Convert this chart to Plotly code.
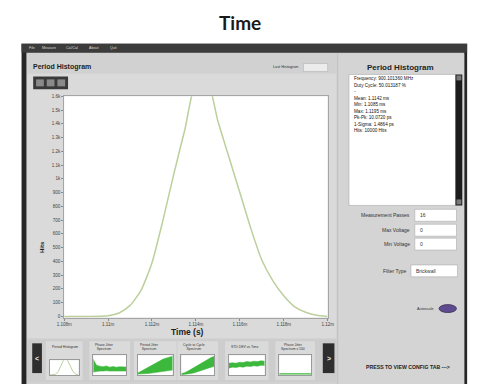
import plotly.graph_objects as go

W, H = 478, 385

# ---------------- data ----------------
times_ms = [1.108, 1.109, 1.110, 1.1105, 1.111, 1.1115, 1.112, 1.1125, 1.113, 1.1135,
            1.114, 1.1145, 1.115, 1.1155, 1.116, 1.1165, 1.117, 1.1175, 1.118, 1.1185,
            1.119, 1.1195, 1.120]
hits = [0, 0, 5, 25, 80, 190, 390, 700, 1040, 1360, 1700, 1720, 1420, 1160, 900, 640,
        410, 260, 150, 70, 30, 8, 0]

x_tick_vals = [1.108, 1.110, 1.112, 1.114, 1.116, 1.118, 1.120]
x_tick_text = ["1.108m", "1.11m", "1.112m", "1.114m", "1.116m", "1.118m", "1.12m"]
y_tick_vals = [0, 100, 200, 300, 400, 500, 600, 700, 800, 900, 1000, 1100, 1200, 1300, 1400, 1500, 1600]
y_tick_text = ["0", "100", "200", "300", "400", "500", "600", "700", "800", "900",
               "1k", "1.1k", "1.2k", "1.3k", "1.4k", "1.5k", "1.6k"]

# thumbnails (normalised 0..1 values, read by eye)
thumb_x = [0, 1, 2, 3, 4, 5, 6, 7, 8, 9, 10]
thumb1_hist = [0, 0, 0.05, 0.25, 0.65, 1.1, 1.05, 0.6, 0.25, 0.06, 0]
thumb2_low = [0.15, 0.18, 0.2, 0.2, 0.22, 0.2, 0.2, 0.22, 0.2, 0.2, 0.2]
thumb2_high = [0.8, 0.5, 0.45, 0.42, 0.46, 0.4, 0.43, 0.4, 0.42, 0.4, 0.41]
thumb3_low = [0.05, 0.05, 0.06, 0.08, 0.1, 0.12, 0.15, 0.18, 0.2, 0.22, 0.25]
thumb3_high = [0.1, 0.2, 0.3, 0.42, 0.52, 0.62, 0.7, 0.78, 0.85, 0.9, 0.95]
thumb4_low = [0.02, 0.03, 0.05, 0.08, 0.12, 0.18, 0.25, 0.3, 0.35, 0.4, 0.45]
thumb4_high = [0.08, 0.12, 0.2, 0.3, 0.4, 0.5, 0.6, 0.7, 0.8, 0.88, 0.95]
thumb5_low = [0.35, 0.4, 0.38, 0.42, 0.4, 0.45, 0.43, 0.47, 0.45, 0.5, 0.48]
thumb5_high = [0.6, 0.62, 0.6, 0.65, 0.63, 0.68, 0.66, 0.7, 0.68, 0.72, 0.7]
thumb6_line = [0.06, 0.06, 0.06, 0.06, 0.06, 0.06, 0.06, 0.06, 0.06, 0.06, 0.06]

thumb_labels = ["Period Histogram", "Phase Jitter<br>Spectrum", "Period Jitter<br>Spectrum",
                "Cycle to Cycle<br>Spectrum", "STD DEV vs Time", "Phase Jitter<br>Spectrum x 100"]

stats_lines = ["Frequency: 900.101360 MHz", "Duty Cycle: 50.013187 %", "-",
               "Mean: 1.1142 ms", "Min: 1.1085 ms", "Max: 1.1195 ms",
               "Pk-Pk: 10.0720 ps", "1-Sigma: 1.4864 ps", "Hits: 10000 Hits"]


def px(x):
    return x / W


def py(y):
    return 1 - y / H


fig = go.Figure()
shapes = []
ann = []


def rect(x0, y0, x1, y1, fill, line=None, lw=0):
    shapes.append(dict(type="rect", xref="paper", yref="paper",
                       x0=px(x0), x1=px(x1), y0=py(y1), y1=py(y0),
                       fillcolor=fill, line=dict(color=line or fill, width=lw),
                       layer="below"))


def text(x, y, s, size=5, color="#222", xanchor="left", bold=False, family="Liberation Sans"):
    if bold:
        s = "<b>" + s + "</b>"
    ann.append(dict(xref="paper", yref="paper", x=px(x), y=py(y), text=s,
                    showarrow=False, xanchor=xanchor, yanchor="middle",
                    font=dict(size=size, color=color, family=family)))


# frame & panels
rect(14, 42, 474, 385, "#262626")
rect(19, 51, 471, 385, "#d1d1d1")
rect(14, 42, 474, 51, "#3c3c3c")
rect(20, 72, 339, 339, "#dadada")
rect(340, 52, 341, 385, "#bdbdbd")
rect(341, 52, 471, 385, "#d4d4d4")
# menu
for mx, mt in [(20, "File"), (33, "Measure"), (58, "Cal/Cal"), (82, "About"), (103, "Quit")]:
    text(mx, 46.5, mt, size=3.6, color="#d8d8d8")

# left panel header
text(24, 66, "Period Histogram", size=7, bold=True, color="#1e1e1e")
text(302, 66, "Last Histogram", size=3.8, color="#333", xanchor="right")
rect(305, 62, 330, 70, "#ececec", "#aaaaaa", 0.5)
# toolbar
rect(26, 75, 62, 88, "#3a3a3a")
for tx in [29, 40, 51]:
    rect(tx, 78, tx + 8, 85, "#8a8a8a")

# main plot area (white)
rect(58, 95, 330, 318, "#ffffff")

# bottom strip
rect(20, 340, 339, 383, "#cdcdcd")
rect(25, 344, 35, 374, "#2e2e2e")
rect(325, 344, 337, 374, "#2e2e2e")
text(30, 359, "<", size=7, color="#eeeeee", xanchor="center", bold=True)
text(331, 359, ">", size=7, color="#eeeeee", xanchor="center", bold=True)

thumb_boxes = [(43, 361, 73, 376), (88, 356, 122, 376), (134, 356, 170, 376),
               (179, 356, 213, 376), (228, 356, 265, 376), (280, 356, 313, 376)]
for (x0, y0, x1, y1), lab in zip(thumb_boxes, thumb_labels):
    rect(x0 - 4, 342, x1 + 4, 381, "#dadada")
    rect(x0, y0, x1, y1, "#ffffff")
    text(x0, 348, lab, size=3.4, color="#333")

# right panel
text(405, 66, "Period Histogram", size=8, bold=True, color="#1e1e1e", xanchor="center")
rect(352, 73, 462, 205, "#ffffff", "#9a9a9a", 0.5)
rect(462, 73, 469, 205, "#1c1c1c")
rect(463, 74, 468, 79, "#7a7a7a")
rect(463, 199, 468, 204, "#7a7a7a")
for i, s in enumerate(stats_lines):
    text(355, 77.5 + i * 6.5, s, size=4.6, color="#111")

fields = [("Measurement Passes", "16", 215, 420, 463),
          ("Max Voltage", "0", 230, 420, 463),
          ("Min Voltage", "0", 244, 420, 463),
          ("Filter Type", "Brickwall", 271, 416, 464)]
for lab, val, yy, bx0, bx1 in fields:
    rect(bx0, yy - 6, bx1, yy + 6, "#ffffff", "#a0a0a0", 0.5)
    text(bx0 - 3, yy, lab, size=5, color="#333", xanchor="right")
    text(bx0 + 3, yy, val, size=5, color="#333")

text(442, 309, "Autoscale", size=3.8, color="#333", xanchor="right")
shapes.append(dict(type="circle", xref="paper", yref="paper",
                   x0=px(445), x1=px(463), y0=py(313), y1=py(305),
                   fillcolor="#5e4a8e", line=dict(color="#3a3050", width=0.8), layer="below"))
text(413, 368, "PRESS TO VIEW CONFIG TAB --->", size=5.2, bold=True, color="#222", xanchor="center")

# title
ann.append(dict(xref="paper", yref="paper", x=0.5, y=py(21), text="<b>Time</b>", showarrow=False,
                xanchor="center", yanchor="middle",
                font=dict(size=19, color="#1a1a1a", family="Lato")))
# axis titles
text(185, 333, "Time (s)", size=8.5, bold=True, color="#1e1e1e", xanchor="center")
ann.append(dict(xref="paper", yref="paper", x=px(35), y=py(247), text="<b>Hits</b>",
                showarrow=False, textangle=-90, xanchor="center", yanchor="middle",
                font=dict(size=6, color="#222", family="Liberation Sans")))

# ---------------- traces ----------------
fig.add_trace(go.Scatter(x=times_ms, y=hits, mode="lines", line_shape="spline",
                         line=dict(color="#bccf9c", width=1.5, smoothing=0.6), xaxis="x", yaxis="y",
                         hoverinfo="skip"))

green = "#3cb83c"
fig.add_trace(go.Scatter(x=thumb_x, y=thumb1_hist, mode="lines",
                         line=dict(color="#bccf9c", width=1), xaxis="x2", yaxis="y2"))
for k, (lo, hi) in zip([3, 4, 5, 6], [(thumb2_low, thumb2_high), (thumb3_low, thumb3_high),
                                      (thumb4_low, thumb4_high), (thumb5_low, thumb5_high)]):
    fig.add_trace(go.Scatter(x=thumb_x, y=lo, mode="lines", line=dict(color=green, width=0.5),
                             xaxis=f"x{k}", yaxis=f"y{k}"))
    fig.add_trace(go.Scatter(x=thumb_x, y=hi, mode="lines", line=dict(color=green, width=0.5),
                             fill="tonexty", fillcolor=green, xaxis=f"x{k}", yaxis=f"y{k}"))
fig.add_trace(go.Scatter(x=thumb_x, y=thumb6_line, mode="lines",
                         line=dict(color=green, width=1.2), xaxis="x7", yaxis="y7"))

layout = dict(
    width=W, height=H, margin=dict(l=0, r=0, t=0, b=0),
    paper_bgcolor="#ffffff", plot_bgcolor="rgba(0,0,0,0)",
    showlegend=False, shapes=shapes, annotations=ann,
    xaxis=dict(domain=[px(58), px(330)], range=[1.108, 1.120], tickvals=x_tick_vals,
               ticktext=x_tick_text, tickfont=dict(size=4.5, color="#444", family="Liberation Sans"),
               ticks="outside", ticklen=2, tickcolor="#888", showline=True, linecolor="#a5a5a5",
               mirror=True, showgrid=False, zeroline=False, fixedrange=True),
    yaxis=dict(domain=[py(318), py(95)], range=[-8, 1600], tickvals=y_tick_vals,
               ticktext=y_tick_text, tickfont=dict(size=4.5, color="#444", family="Liberation Sans"),
               ticks="outside", ticklen=2, tickcolor="#888", showline=True, linecolor="#a5a5a5",
               mirror=True, showgrid=False, zeroline=False, fixedrange=True),
)
for i, (x0, y0, x1, y1) in enumerate(thumb_boxes):
    k = i + 2
    layout[f"xaxis{k}"] = dict(domain=[px(x0), px(x1)], range=[0, 10], visible=True,
                               showticklabels=False, ticks="", showgrid=False, zeroline=False,
                               showline=True, linecolor="#9a9a9a", mirror=True, fixedrange=True,
                               anchor=f"y{k}")
    layout[f"yaxis{k}"] = dict(domain=[py(y1), py(y0)], range=[0, 1], showticklabels=False,
                               ticks="", showgrid=False, zeroline=False, showline=True,
                               linecolor="#9a9a9a", mirror=True, fixedrange=True,
                               anchor=f"x{k}")
fig.update_layout(**layout)
fig.write_html("out.html", config={"displayModeBar": False},
               post_script="document.body.style.margin='0px';document.body.style.padding='0px';")
